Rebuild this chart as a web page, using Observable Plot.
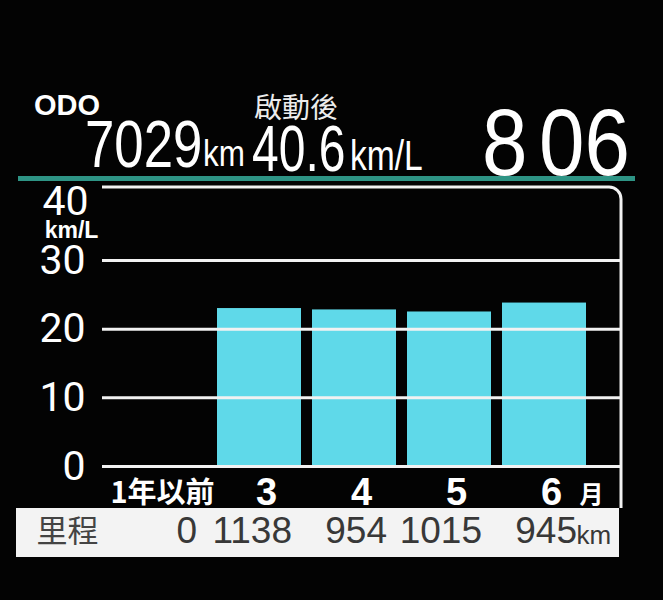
<!DOCTYPE html>
<html>
<head>
<meta charset="utf-8">
<script src="https://cdn.jsdelivr.net/npm/d3@7"></script>
<script src="https://cdn.jsdelivr.net/npm/@observablehq/plot@0.6"></script>
<style>
  html, body { margin: 0; padding: 0; background: #030303; }
  #wrap { position: relative; width: 663px; height: 600px; overflow: hidden; background: #030303; }
  .t { position: absolute; color: #fff; white-space: nowrap; line-height: 0.75;
       font-family: "Liberation Sans", Arimo, Arial, sans-serif; transform-origin: 0 0; }
  .cjk { font-family: "Noto Sans CJK TC", "Noto Sans CJK JP", sans-serif; line-height: 0.9; }
  #rule { position: absolute; left: 18px; top: 176px; width: 617px; height: 5px; background: #2e9485; }
  #band { position: absolute; left: 16px; top: 508px; width: 603px; height: 49px; background: #f3f3f3; }
  #chart { position: absolute; left: 0; top: 0; }
</style>
</head>
<body>
<div id="wrap">
  <div id="band"></div>
  <div id="chart"></div>
  <div class="t" style="left:34px;top:95px;font-size:29px;font-weight:bold;">ODO</div>
  <div class="t" style="left:84.5px;top:120px;font-size:66px;transform:scaleX(0.8);">7029</div>
  <div class="t" style="left:203px;top:140px;font-size:37px;transform:scaleX(0.85);">km</div>
  <div class="t cjk" style="left:254px;top:93.7px;font-size:28px;color:#ececec;">啟動後</div>
  <div class="t" style="left:252px;top:125px;font-size:64px;transform:scaleX(0.75);">40.6</div>
  <div class="t" style="left:350px;top:140px;font-size:42px;transform:scaleX(0.8);">km/L</div>
  <div class="t" style="left:481.7px;top:107px;font-size:95px;transform:scaleX(0.86);">8</div>
  <div class="t" style="left:538.7px;top:107px;font-size:95px;transform:scaleX(0.86);">06</div>
  <div id="rule"></div>
</div>
<script>
// ---- data read from the display ----
const categories = ["1年以前", "3", "4", "5", "6"];
const fuelEconomy = [0, 23.0, 22.8, 22.5, 23.8];   // km/L
const distances = [0, 1138, 954, 1015, 945];         // km
const yTicks = [0, 10, 20, 30, 40];
const yUnit = "km/L";
const monthUnit = "月";
const distanceLabel = "里程";
const distanceUnit = "km";

const rows = categories.map((c, i) => ({month: c, kmpl: fuelEconomy[i], km: distances[i]}));

const LAT = "'Liberation Sans', Arimo, Arial, sans-serif";
const CJK = "'Noto Sans CJK TC', 'Noto Sans CJK JP', sans-serif";
const TICK = "Roboto, 'Liberation Sans', sans-serif";
const LINE = "#f2f2f2";

// white outline of the graph area (top edge with rounded right corner)
function outline(index, scales, values, dims) {
  const {width, height, marginLeft, marginRight, marginTop, marginBottom} = dims;
  const xr = width - marginRight, r = 12, yb = height - marginBottom + 42;
  const p = d3.path();
  p.moveTo(marginLeft, marginTop);
  p.lineTo(xr - r, marginTop);
  p.arcTo(xr, marginTop, xr, marginTop + r, r);
  p.lineTo(xr, yb);
  return d3.create("svg:path").attr("d", p.toString()).attr("fill", "none")
    .attr("stroke", LINE).attr("stroke-width", 3).node();
}

const chart = Plot.plot({
  width: 663,
  height: 600,
  marginLeft: 102,
  marginRight: 42,
  marginTop: 187,
  marginBottom: 134,
  style: {background: "transparent", color: "white", fontFamily: LAT},
  x: {type: "band", domain: categories, range: [109.5, 598], padding: 0.115, axis: null},
  y: {domain: [0, 40], range: [466, 191.3], axis: null},
  marks: [
    Plot.barY(rows, {x: "month", y: "kmpl", fill: "#5fd9e9"}),
    Plot.ruleY(yTicks.filter(d => d < 40), {stroke: LINE, strokeWidth: 3}),
    outline,
    // y tick labels
    Plot.text(yTicks.filter(d => d < 40), {y: d => d, text: d => String(d), frameAnchor: "left",
      lineAnchor: "middle", textAnchor: "end", dx: -17, fill: "white", fontSize: 41, fontWeight: "normal", fontFamily: TICK}),
    Plot.text(yTicks.filter(d => d === 40), {y: d => d, text: d => String(d), frameAnchor: "left",
      lineAnchor: "middle", textAnchor: "end", dx: -14, dy: 10, fill: "white", fontSize: 41, fontWeight: "normal", fontFamily: TICK}),
    Plot.text([yUnit], {text: d => d, frameAnchor: "top-left", lineAnchor: "middle", textAnchor: "middle", dx: -31, dy: 43,
      fill: "white", fontSize: 23, fontWeight: "bold", fontFamily: LAT}),
    // x labels
    Plot.text(rows.slice(0, 1), {x: "month", text: "month", frameAnchor: "bottom", lineAnchor: "middle", dx: -2, dy: 27,
      fill: "white", fontSize: 29, fontWeight: "bold", fontFamily: CJK}),
    Plot.text(rows.slice(1), {x: "month", text: "month", frameAnchor: "bottom", lineAnchor: "middle", dx: 7, dy: 26,
      fill: "white", fontSize: 38, fontWeight: "bold", fontFamily: LAT}),
    Plot.text(rows.slice(-1), {x: "month", text: () => monthUnit, frameAnchor: "bottom", lineAnchor: "middle", dx: 47, dy: 29,
      fill: "white", fontSize: 24, fontWeight: "bold", fontFamily: CJK}),
    // distance row
    Plot.text([distanceLabel], {text: d => d, frameAnchor: "bottom-left", lineAnchor: "middle", textAnchor: "start", dx: -66, dy: 66,
      fill: "#444", fontSize: 31, fontFamily: CJK}),
    Plot.text(rows, {x: "month", text: d => String(d.km), frameAnchor: "bottom", lineAnchor: "middle", textAnchor: "end",
      dx: 32.5, dy: 65, fill: "#383838", fontSize: 37, fontFamily: LAT, ariaLabel: "km-values"}),
    Plot.text(rows.slice(-1), {x: "month", text: () => distanceUnit, frameAnchor: "bottom", lineAnchor: "middle", textAnchor: "start",
      dx: 32, dy: 69, fill: "#383838", fontSize: 26, fontFamily: LAT})
  ]
});

document.getElementById("chart").appendChild(chart);

// condense the distance numerals like the display font
d3.select(chart).selectAll('g[aria-label="km-values"] text').each(function () {
  const x = +this.getAttribute("x") || 0, y = +this.getAttribute("y") || 0;
  this.removeAttribute("x"); this.removeAttribute("y");
  const t = this.getAttribute("transform") || "";
  this.setAttribute("transform", `${t} translate(${x},${y}) scale(0.88,1)`);
});
</script>
</body>
</html>
